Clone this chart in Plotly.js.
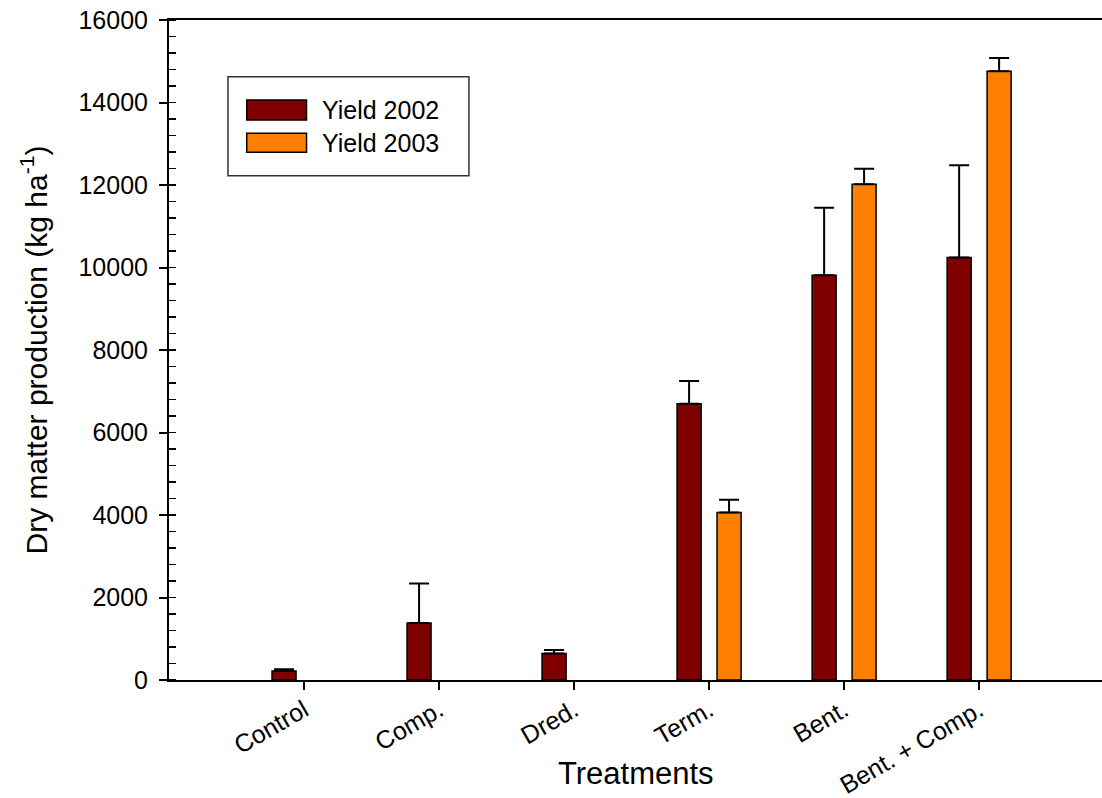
<!DOCTYPE html>
<html>
<head>
<meta charset="utf-8">
<script src="https://cdn.plot.ly/plotly-3.0.1.min.js"></script>
<style>
html,body{margin:0;padding:0;background:#fff;}
#chart{width:1102px;height:798px;}
</style>
</head>
<body>
<div id="chart"></div>
<script>
// ---- data ----
var categories = ['Control', 'Comp.', 'Dred.', 'Term.', 'Bent.', 'Bent. + Comp.'];
var yield2002 = [220, 1380, 640, 6700, 9810, 10240];
var err2002   = [40, 960, 90, 550, 1640, 2240];
var yield2003 = [null, null, null, 4060, 12020, 14760];
var err2003   = [null, null, null, 310, 375, 320];
var seriesNames = ['Yield 2002', 'Yield 2003'];
var seriesColors = ['#800000', '#FF8000'];

var FONT = 'Liberation Sans, Arial, sans-serif';

function zeros(a){ return a.map(function(){ return 0; }); }

var traces = [
  {
    type: 'bar', name: seriesNames[0], x: categories, y: yield2002,
    width: 0.178, offset: -0.237,
    marker: {color: seriesColors[0], line: {color: '#000', width: 1.5}},
    error_y: {type: 'data', array: err2002, arrayminus: zeros(err2002), symmetric: false,
              color: '#000', thickness: 2, width: 10},
    showlegend: false, hoverinfo: 'x+y'
  },
  {
    type: 'bar', name: seriesNames[1], x: categories, y: yield2003,
    width: 0.178, offset: 0.059,
    marker: {color: seriesColors[1], line: {color: '#000', width: 1.5}},
    error_y: {type: 'data', array: err2003, arrayminus: zeros(err2003), symmetric: false,
              color: '#000', thickness: 2, width: 10},
    showlegend: false, hoverinfo: 'x+y'
  }
];

// legend drawn as layout shapes + text (paper coords)
var legShapes = [
  {type: 'rect', xref: 'paper', yref: 'paper', x0: 0.0632, x1: 0.3215, y0: 0.7641, y1: 0.9141,
   line: {color: '#333', width: 1.5}, fillcolor: 'rgba(0,0,0,0)'},
  {type: 'rect', xref: 'paper', yref: 'paper', x0: 0.0833, x1: 0.1474, y0: 0.8485, y1: 0.8788,
   line: {color: '#000', width: 1.5}, fillcolor: seriesColors[0]},
  {type: 'rect', xref: 'paper', yref: 'paper', x0: 0.0833, x1: 0.1474, y0: 0.7995, y1: 0.8283,
   line: {color: '#000', width: 1.5}, fillcolor: seriesColors[1]}
];
var legAnn = [
  {xref: 'paper', yref: 'paper', x: 0.1618, y: 0.8636, xanchor: 'left', yanchor: 'middle',
   text: seriesNames[0], showarrow: false, font: {family: FONT, size: 25, color: '#000'}},
  {xref: 'paper', yref: 'paper', x: 0.1618, y: 0.8136, xanchor: 'left', yanchor: 'middle',
   text: seriesNames[1], showarrow: false, font: {family: FONT, size: 25, color: '#000'}},
  {xref: 'paper', yref: 'paper', x: 0.5, y: -0.141, xanchor: 'center', yanchor: 'middle',
   text: 'Treatments', showarrow: false, font: {family: FONT, size: 31, color: '#000'}}
];

var layout = {
  width: 1102, height: 798,
  margin: {l: 169, r: 0, t: 20, b: 118, pad: 0},
  paper_bgcolor: '#fff', plot_bgcolor: '#fff',
  font: {family: FONT, size: 25, color: '#000'},
  showlegend: false,
  barmode: 'group',
  xaxis: {
    type: 'category', range: [-1, 5.91], fixedrange: true,
    showline: true, linecolor: '#000', linewidth: 2, mirror: true,
    ticks: 'outside', ticklen: 8, tickwidth: 2, tickcolor: '#000',
    tickangle: -30, ticklabelstandoff: -4,
    tickfont: {family: FONT, size: 25, color: '#000'},
    showgrid: false, zeroline: false, automargin: false
  },
  yaxis: {
    range: [0, 16000], dtick: 2000, tick0: 0, tickformat: 'd', fixedrange: true,
    showline: true, linecolor: '#000', linewidth: 2,
    ticks: 'outside', ticklen: 8, tickwidth: 2, tickcolor: '#000',
    minor: {dtick: 400, ticks: 'inside', ticklen: 7, tickwidth: 1.5, tickcolor: '#000', showgrid: false},
    ticklabelstandoff: 6,
    tickfont: {family: FONT, size: 25, color: '#000'},
    showgrid: false, zeroline: false, automargin: false,
    title: {text: 'Dry matter production (kg ha<sup>-1</sup>)', standoff: 22,
            font: {family: FONT, size: 30, color: '#000'}}
  },
  shapes: legShapes,
  annotations: legAnn
};

Plotly.newPlot('chart', traces, layout, {displayModeBar: false, staticPlot: true});
</script>
</body>
</html>
